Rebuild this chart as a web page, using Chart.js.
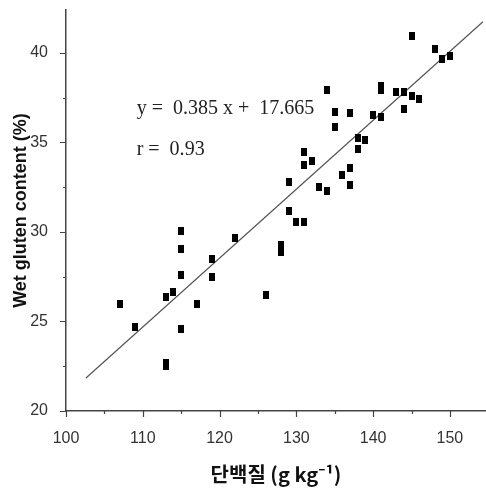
<!DOCTYPE html>
<html>
<head>
<meta charset="utf-8">
<script src="https://cdn.jsdelivr.net/npm/chart.js@4"></script>
<style>
  html, body { margin: 0; padding: 0; background: #fff; }
  #wrap { width: 486px; height: 492px; }
</style>
</head>
<body>
<div id="wrap"><canvas id="glutenChart" width="486" height="492"></canvas></div>
<script>
// protein (g/kg) vs wet gluten (%)
const proteinX = [107, 109, 113, 113, 113, 114, 115, 115, 115, 115, 117, 119, 119, 122, 126,
    128, 128, 129, 129, 130, 131, 131, 131, 132, 133, 134, 134, 135, 135, 136, 137, 137, 137,
    138, 138, 139, 140, 141, 141, 141, 143, 144, 144, 145, 145, 146, 148, 149, 150];
const glutenY = [25.97, 24.68, 26.39, 22.7, 22.5, 26.67, 30.03, 29.04, 27.57, 24.6, 25.97, 28.48, 27.49, 29.66, 26.47,
    29.3, 28.9, 32.77, 31.15, 30.55, 30.55, 34.45, 33.76, 33.97, 32.54, 32.27, 37.91, 36.72, 35.84, 33.16, 36.63, 33.55, 32.64,
    35.23, 34.64, 35.16, 36.52, 38.15, 37.95, 36.43, 37.82, 37.82, 36.85, 37.62, 40.93, 37.45, 40.23, 39.69, 39.82];

// regression line end points
const fitX = [102.6, 154.3];
const fitY = [21.84, 41.74];

const xTicks = [100, 110, 120, 130, 140, 150];
const xMinorTicks = [105, 115, 125, 135, 145];
const yTicks = [20, 25, 30, 35, 40];
const yMinorTicks = [22.5, 27.5, 32.5, 37.5];

const equationText = "y =  0.385 x +  17.665";
const rText = "r =  0.93";

const marker = document.createElement("canvas");
marker.width = 6;
marker.height = 8;
const mctx = marker.getContext("2d");
mctx.fillStyle = "#000";
mctx.fillRect(0, 0, 6, 8);

const tickFont = { family: "'Liberation Sans Narrow', 'Liberation Sans', Arial, sans-serif", size: 16 };

const tickMarks = {
    id: "tickMarks",
    afterDraw(chart) {
        const ctx = chart.ctx;
        const xs = chart.scales.x;
        const ys = chart.scales.y;
        const area = chart.chartArea;
        ctx.save();
        ctx.strokeStyle = "#444";
        ctx.lineWidth = 1.2;
        ctx.beginPath();
        xTicks.forEach(v => { const p = Math.round(xs.getPixelForValue(v)) + 0.5; ctx.moveTo(p, area.bottom); ctx.lineTo(p, area.bottom + 6); });
        xMinorTicks.forEach(v => { const p = Math.round(xs.getPixelForValue(v)) + 0.5; ctx.moveTo(p, area.bottom); ctx.lineTo(p, area.bottom + 3); });
        yTicks.forEach(v => { const p = Math.round(ys.getPixelForValue(v)) + 0.5; ctx.moveTo(area.left, p); ctx.lineTo(area.left - 6, p); });
        yMinorTicks.forEach(v => { const p = Math.round(ys.getPixelForValue(v)) + 0.5; ctx.moveTo(area.left, p); ctx.lineTo(area.left - 3, p); });
        ctx.stroke();

        // equation text
        ctx.fillStyle = "#222";
        ctx.textBaseline = "middle";
        ctx.font = "22px 'Liberation Serif', 'Times New Roman', serif";
        [[equationText, 36.9], [rText, 34.65]].forEach(([txt, val]) => {
            ctx.save();
            ctx.translate(xs.getPixelForValue(109.2), ys.getPixelForValue(val));
            ctx.scale(0.91, 1);
            ctx.fillText(txt, 0, 0);
            ctx.restore();
        });
        ctx.restore();
    }
};

new Chart(document.getElementById("glutenChart"), {
    type: "scatter",
    data: {
        datasets: [{
            data: proteinX.map((x, i) => ({ x: x, y: glutenY[i] })),
            pointStyle: marker,
            pointRadius: 4,
            pointHoverRadius: 4
        }, {
            type: "line",
            data: fitX.map((x, i) => ({ x: x, y: fitY[i] })),
            borderColor: "#555",
            borderWidth: 1.2,
            pointRadius: 0,
            fill: false
        }]
    },
    options: {
        responsive: false,
        animation: false,
        layout: { autoPadding: false, padding: { top: 10, right: 0, bottom: 0, left: 0 } },
        plugins: { legend: { display: false }, tooltip: { enabled: false } },
        scales: {
            x: {
                type: "linear",
                min: 100,
                max: 154.7,
                afterFit: scale => {
                    scale.height = 81;
                    scale.paddingLeft = 0;
                    scale.paddingRight = 0;
                },
                afterBuildTicks: scale => { scale.ticks = xTicks.map(v => ({ value: v })); },
                grid: { display: false },
                border: { display: true, color: "#444", width: 1.5 },
                ticks: { color: "#333", font: tickFont, padding: 10, maxRotation: 0 },
                title: {
                    display: true,
                    text: "단백질 (g kg⁻¹)",
                    color: "#111",
                    font: { family: "'Noto Sans CJK KR', 'Noto Sans', sans-serif", size: 20, weight: "bold" },
                    padding: { top: 0, bottom: 6 }
                }
            },
            y: {
                min: 20,
                max: 42.4,
                afterFit: scale => {
                    scale.width = 66;
                    scale.paddingTop = 0;
                    scale.paddingBottom = 0;
                },
                afterBuildTicks: scale => { scale.ticks = yTicks.map(v => ({ value: v })); },
                grid: { display: false },
                border: { display: true, color: "#444", width: 1.5 },
                ticks: { color: "#333", font: tickFont, padding: 10 },
                title: {
                    display: true,
                    text: "Wet gluten content (%)",
                    color: "#111",
                    font: { family: "'Liberation Sans', Arial, sans-serif", size: 18, weight: "bold" },
                    padding: { top: 10, bottom: 0 }
                }
            }
        }
    },
    plugins: [tickMarks]
});
</script>
</body>
</html>
